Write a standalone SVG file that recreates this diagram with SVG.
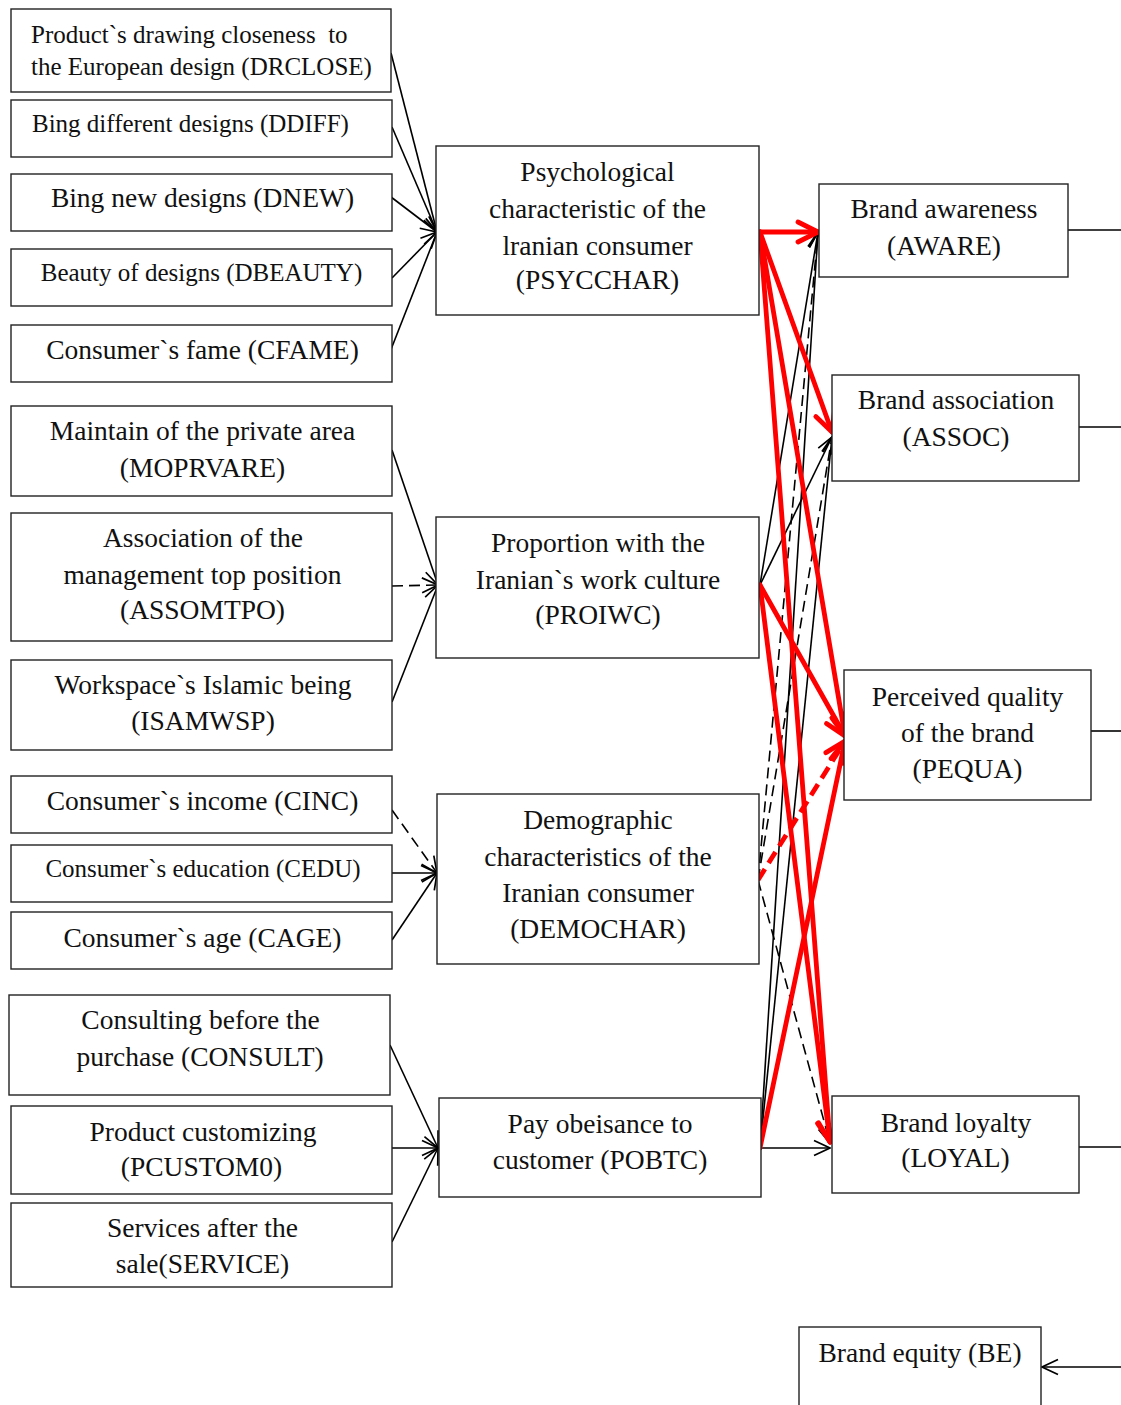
<svg xmlns="http://www.w3.org/2000/svg" width="1121" height="1405" viewBox="0 0 1121 1405">
  <style>
    .box { fill: #fff; stroke: #222; stroke-width: 1.4; }
    text { font-family: "Liberation Serif", "Times New Roman", serif; fill: #111; font-size: 27.5px; text-anchor: middle; }
    text.sm { font-size: 25px; }
    text.l { text-anchor: start; white-space: pre; }
    .ln { stroke: #000; stroke-width: 1.6; fill: none; }
    .dash { stroke-dasharray: 11 6; }
    .red { stroke: #ff0000; stroke-width: 4.8; fill: none; stroke-linecap: round; }
    .rdash { stroke-dasharray: 13 7; stroke-linecap: butt; }
  </style>
  <defs>
    <marker id="ah" viewBox="0 0 18 18" refX="17" refY="9" markerWidth="18" markerHeight="18" markerUnits="userSpaceOnUse" orient="auto">
      <path d="M1,1.5 L17,9 L1,16.5" fill="none" stroke="#000" stroke-width="1.7"/>
    </marker>
    <marker id="rah" viewBox="0 0 26 26" refX="23" refY="13" markerWidth="26" markerHeight="26" markerUnits="userSpaceOnUse" orient="auto">
      <path d="M3,3 L23,13 L3,23" fill="none" stroke="#ff0000" stroke-width="4.8" stroke-linecap="round" stroke-linejoin="round"/>
    </marker>
  </defs>

  <rect width="1121" height="1405" fill="#fff"/>

  <!-- connectors -->
  <g id="connectors">
    <!-- indicators into PSYCCHAR -->
    <line class="ln" x1="391" y1="53" x2="437" y2="232" marker-end="url(#ah)"/>
    <line class="ln" x1="392" y1="127" x2="437" y2="232" marker-end="url(#ah)"/>
    <line class="ln" x1="391" y1="197" x2="437" y2="232" marker-end="url(#ah)"/>
    <line class="ln" x1="392" y1="278" x2="437" y2="232" marker-end="url(#ah)"/>
    <line class="ln" x1="390" y1="352" x2="437" y2="232" marker-end="url(#ah)"/>
    <!-- indicators into PROIWC -->
    <line class="ln" x1="392" y1="450" x2="438" y2="585" marker-end="url(#ah)"/>
    <line class="ln dash" x1="392" y1="586" x2="438" y2="585" marker-end="url(#ah)"/>
    <line class="ln" x1="392" y1="702" x2="438" y2="585" marker-end="url(#ah)"/>
    <!-- indicators into DEMOCHAR -->
    <line class="ln dash" x1="392" y1="810" x2="437" y2="873" marker-end="url(#ah)"/>
    <line class="ln" x1="392" y1="873" x2="437" y2="873" marker-end="url(#ah)"/>
    <line class="ln" x1="392" y1="940" x2="437" y2="873" marker-end="url(#ah)"/>
    <!-- indicators into POBTC -->
    <line class="ln" x1="390" y1="1045" x2="438" y2="1148" marker-end="url(#ah)"/>
    <line class="ln" x1="392" y1="1148" x2="438" y2="1148" marker-end="url(#ah)"/>
    <line class="ln" x1="392" y1="1242" x2="438" y2="1148" marker-end="url(#ah)"/>

    <!-- thin paths into brand equity dimensions -->
    <line class="ln" x1="760" y1="585" x2="818" y2="232" marker-end="url(#ah)"/>
    <line class="ln" x1="760" y1="585" x2="832" y2="437" marker-end="url(#ah)"/>
    <line class="ln dash" x1="758" y1="880" x2="818" y2="232" marker-end="url(#ah)"/>
    <line class="ln dash" x1="758" y1="880" x2="832" y2="437" marker-end="url(#ah)"/>
    <line class="ln dash" x1="758" y1="880" x2="830" y2="1143" marker-end="url(#ah)"/>
    <line class="ln" x1="760" y1="1148" x2="818" y2="232" marker-end="url(#ah)"/>
    <line class="ln" x1="760" y1="1148" x2="832" y2="437" marker-end="url(#ah)"/>
    <line class="ln" x1="760" y1="1148" x2="830" y2="1148" marker-end="url(#ah)"/>

    <!-- highlighted paths -->
    <line class="red" x1="760" y1="232" x2="818" y2="232" marker-end="url(#rah)"/>
    <line class="red" x1="760" y1="232" x2="832" y2="432" marker-end="url(#rah)"/>
    <line class="red" x1="760" y1="232" x2="845" y2="736" marker-end="url(#rah)"/>
    <line class="red" x1="760" y1="232" x2="830" y2="1142" marker-end="url(#rah)"/>
    <line class="red" x1="760" y1="585" x2="845" y2="736" marker-end="url(#rah)"/>
    <line class="red" x1="760" y1="585" x2="830" y2="1142" marker-end="url(#rah)"/>
    <line class="red" x1="760" y1="1148" x2="845" y2="741" marker-end="url(#rah)"/>
    <line class="red rdash" x1="758" y1="880" x2="845" y2="741" marker-end="url(#rah)"/>

    <!-- outgoing links to brand equity -->
    <line class="ln" x1="1068" y1="230" x2="1121" y2="230"/>
    <line class="ln" x1="1079" y1="427" x2="1121" y2="427"/>
    <line class="ln" x1="1091" y1="731" x2="1121" y2="731"/>
    <line class="ln" x1="1079" y1="1147" x2="1121" y2="1147"/>
    <line class="ln" x1="1121" y1="1367" x2="1042" y2="1367" marker-end="url(#ah)"/>
  </g>

  <!-- left column: indicators -->
  <g id="DRCLOSE">
    <rect class="box" x="11" y="9" width="380" height="83"/>
    <text class="sm l" x="31" y="43" xml:space="preserve">Product`s drawing closeness  to</text>
    <text class="sm l" x="31" y="75">the European design (DRCLOSE)</text>
  </g>
  <g id="DDIFF">
    <rect class="box" x="11" y="100" width="381" height="57"/>
    <text class="sm l" x="32" y="132">Bing different designs (DDIFF)</text>
  </g>
  <g id="DNEW">
    <rect class="box" x="11" y="174" width="381" height="57"/>
    <text x="202.5" y="207">Bing new designs (DNEW)</text>
  </g>
  <g id="DBEAUTY">
    <rect class="box" x="11" y="249" width="381" height="57"/>
    <text class="sm" x="201.5" y="281">Beauty of designs (DBEAUTY)</text>
  </g>
  <g id="CFAME">
    <rect class="box" x="11" y="325" width="381" height="57"/>
    <text x="202.5" y="359">Consumer`s fame (CFAME)</text>
  </g>
  <g id="MOPRVARE">
    <rect class="box" x="11" y="406" width="381" height="90"/>
    <text x="202.5" y="440">Maintain of the private area</text>
    <text x="202.5" y="477">(MOPRVARE)</text>
  </g>
  <g id="ASSOMTPO">
    <rect class="box" x="11" y="513" width="381" height="128"/>
    <text x="203" y="547">Association of the</text>
    <text x="202.5" y="584">management top position</text>
    <text x="202.5" y="619">(ASSOMTPO)</text>
  </g>
  <g id="ISAMWSP">
    <rect class="box" x="11" y="660" width="381" height="90"/>
    <text x="203" y="694">Workspace`s Islamic being</text>
    <text x="203" y="730">(ISAMWSP)</text>
  </g>
  <g id="CINC">
    <rect class="box" x="11" y="776" width="381" height="57"/>
    <text x="202.5" y="810">Consumer`s income (CINC)</text>
  </g>
  <g id="CEDU">
    <rect class="box" x="11" y="845" width="381" height="57"/>
    <text class="sm" x="203" y="877">Consumer`s education (CEDU)</text>
  </g>
  <g id="CAGE">
    <rect class="box" x="11" y="912" width="381" height="57"/>
    <text x="202.5" y="947">Consumer`s age (CAGE)</text>
  </g>
  <g id="CONSULT">
    <rect class="box" x="9" y="995" width="381" height="100"/>
    <text x="200.5" y="1029">Consulting before the</text>
    <text x="200" y="1066">purchase (CONSULT)</text>
  </g>
  <g id="PCUSTOM0">
    <rect class="box" x="11" y="1106" width="381" height="88"/>
    <text x="203" y="1141">Product customizing</text>
    <text x="201.5" y="1176">(PCUSTOM0)</text>
  </g>
  <g id="SERVICE">
    <rect class="box" x="11" y="1203" width="381" height="84"/>
    <text x="202.5" y="1237">Services after the</text>
    <text x="202.5" y="1273">sale(SERVICE)</text>
  </g>

  <!-- middle column: constructs -->
  <g id="PSYCCHAR">
    <rect class="box" x="436" y="146" width="323" height="169"/>
    <text x="597.5" y="181">Psychological</text>
    <text x="597.5" y="218">characteristic of the</text>
    <text x="597.5" y="255">lranian consumer</text>
    <text x="597.5" y="289">(PSYCCHAR)</text>
  </g>
  <g id="PROIWC">
    <rect class="box" x="436" y="517" width="323" height="141"/>
    <text x="598" y="552">Proportion with the</text>
    <text x="598" y="589">Iranian`s work culture</text>
    <text x="598" y="624">(PROIWC)</text>
  </g>
  <g id="DEMOCHAR">
    <rect class="box" x="437" y="794" width="322" height="170"/>
    <text x="598" y="829">Demographic</text>
    <text x="598" y="866">characteristics of the</text>
    <text x="598" y="902">Iranian consumer</text>
    <text x="598" y="938">(DEMOCHAR)</text>
  </g>
  <g id="POBTC">
    <rect class="box" x="439" y="1098" width="322" height="99"/>
    <text x="600" y="1133">Pay obeisance to</text>
    <text x="600" y="1169">customer (POBTC)</text>
  </g>

  <!-- right column: brand equity dimensions -->
  <g id="AWARE">
    <rect class="box" x="819" y="184" width="249" height="93"/>
    <text x="944" y="218">Brand awareness</text>
    <text x="944" y="255">(AWARE)</text>
  </g>
  <g id="ASSOC">
    <rect class="box" x="832" y="375" width="247" height="106"/>
    <text x="956" y="409">Brand association</text>
    <text x="956" y="446">(ASSOC)</text>
  </g>
  <g id="PEQUA">
    <rect class="box" x="844" y="670" width="247" height="130"/>
    <text x="967.5" y="706">Perceived quality</text>
    <text x="967.5" y="742">of the brand</text>
    <text x="967.5" y="778">(PEQUA)</text>
  </g>
  <g id="LOYAL">
    <rect class="box" x="832" y="1096" width="247" height="97"/>
    <text x="956" y="1132">Brand loyalty</text>
    <text x="955.5" y="1167">(LOYAL)</text>
  </g>
  <g id="BE">
    <rect class="box" x="799" y="1327" width="242" height="100"/>
    <text x="920" y="1362">Brand equity (BE)</text>
  </g>
</svg>
